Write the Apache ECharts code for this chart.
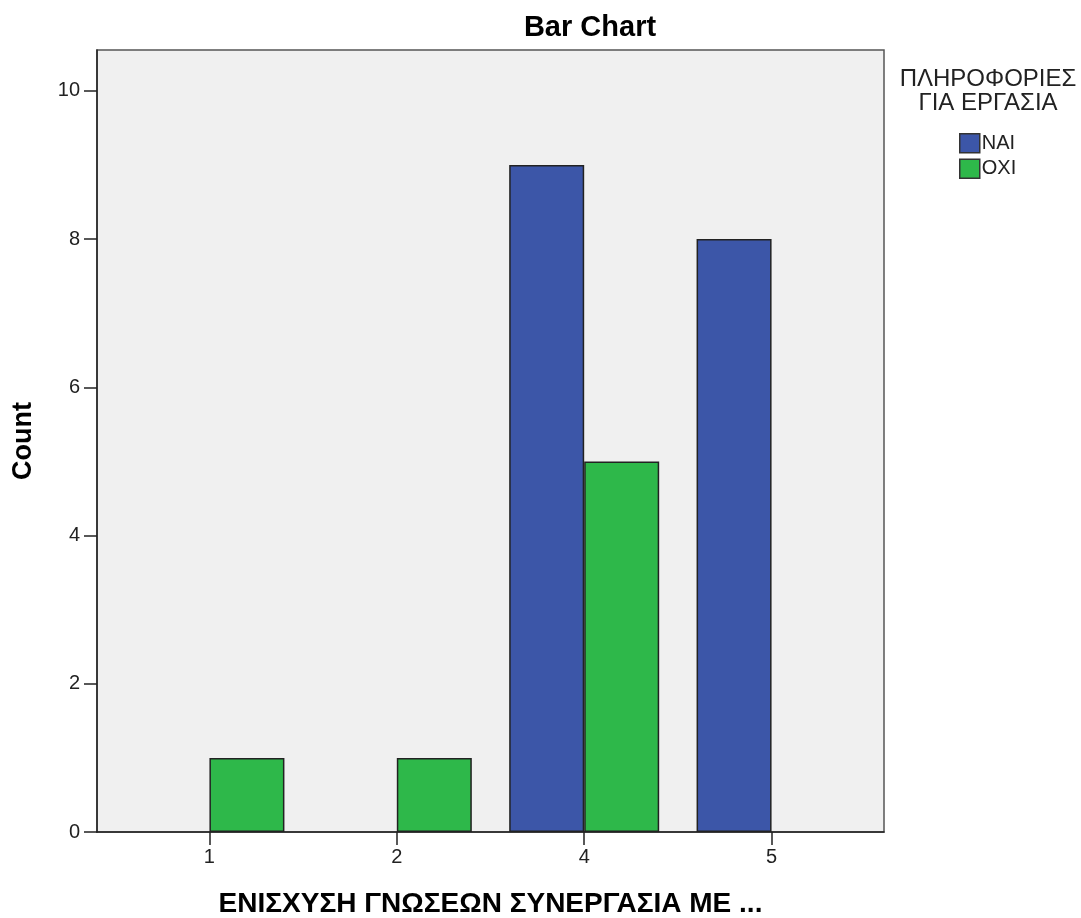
<!DOCTYPE html>
<html>
<head>
<meta charset="utf-8">
<script src="https://cdn.jsdelivr.net/npm/echarts@6/dist/echarts.min.js"></script>
<style>html,body{margin:0;padding:0;background:#fff}#c{width:1081px;height:918px}</style>
</head>
<body>
<div id="c"></div>
<script>
const categories = ['1', '2', '4', '5'];
const naiValues = [0, 0, 9, 8];
const oxiValues = [1, 1, 5, 0];
const yTicks = [0, 2, 4, 6, 8, 10];
const seriesNames = ['NAI', 'OXI'];

const positions = categories.map((c, i) => i + 1);
function toData(vals) {
  return vals.map((v, i) => v > 0 ? [positions[i], v] : [positions[i], null]);
}
const font = '"Liberation Sans", Arial, sans-serif';
const chart = echarts.init(document.getElementById('c'), null, {renderer: 'canvas'});
chart.setOption({
  animation: false,
  textStyle: {fontFamily: font},
  title: [
    {text: 'Bar Chart', left: 585, top: 8, textAlign: 'center',
     textStyle: {fontFamily: font, fontSize: 29, fontWeight: 'bold', color: '#000'}},
    {text: 'ΠΛΗΡΟΦΟΡΙΕΣ\nΓΙΑ ΕΡΓΑΣΙΑ', left: 983, top: 62, textAlign: 'center',
     textStyle: {fontFamily: font, fontSize: 24, fontWeight: 'normal', color: '#222', lineHeight: 24, align: 'center'}}
  ],
  legend: {
    orient: 'vertical', left: 959, top: 133, padding: 0, itemWidth: 20, itemHeight: 19, itemGap: 5,
    icon: 'rect', data: seriesNames,
    textStyle: {fontFamily: font, fontSize: 20, color: '#222', padding: [0, 0, 0, -3]},
    itemStyle: {borderColor: '#333', borderWidth: 1.5}
  },
  grid: {left: 97, right: 197, top: 50, bottom: 86, show: true, outerBoundsMode: 'none',
         backgroundColor: '#f0f0f0', borderColor: '#555', borderWidth: 1.5},
  xAxis: {
    type: 'value', min: 0.4, max: 4.6,
    name: 'ΕΝΙΣΧΥΣΗ ΓΝΩΣΕΩΝ ΣΥΝΕΡΓΑΣΙΑ ΜΕ ...', nameLocation: 'middle', nameGap: 58,
    nameTextStyle: {fontFamily: font, fontSize: 28, fontWeight: 'bold', color: '#000'},
    axisLine: {show: true, onZero: false, lineStyle: {color: '#222', width: 1.5}},
    axisTick: {show: true, length: 13, customValues: positions, lineStyle: {color: '#222', width: 1.5}},
    axisLabel: {customValues: positions, margin: 15, fontSize: 20, color: '#222',
      formatter: v => categories[Math.round(v) - 1] || ''},
    splitLine: {show: false}
  },
  yAxis: {
    type: 'value', min: 0, max: 10.55,
    name: 'Count', nameLocation: 'middle', nameGap: 60,
    nameTextStyle: {fontFamily: font, fontSize: 27, fontWeight: 'bold', color: '#000'},
    axisLine: {show: true, lineStyle: {color: '#222', width: 1.5}},
    axisTick: {show: true, length: 13, customValues: yTicks, lineStyle: {color: '#222', width: 1.5}},
    axisLabel: {customValues: yTicks, margin: 17, fontSize: 20, color: '#222'},
    splitLine: {show: false}
  },
  series: [
    {name: seriesNames[0], type: 'bar', data: toData(naiValues), barWidth: 75, barGap: '0%',
     itemStyle: {color: '#3c56a8', borderColor: '#222', borderWidth: 1.5}},
    {name: seriesNames[1], type: 'bar', data: toData(oxiValues), barWidth: 75, barGap: '0%',
     itemStyle: {color: '#2eb84a', borderColor: '#222', borderWidth: 1.5}}
  ]
});
</script>
</body>
</html>
